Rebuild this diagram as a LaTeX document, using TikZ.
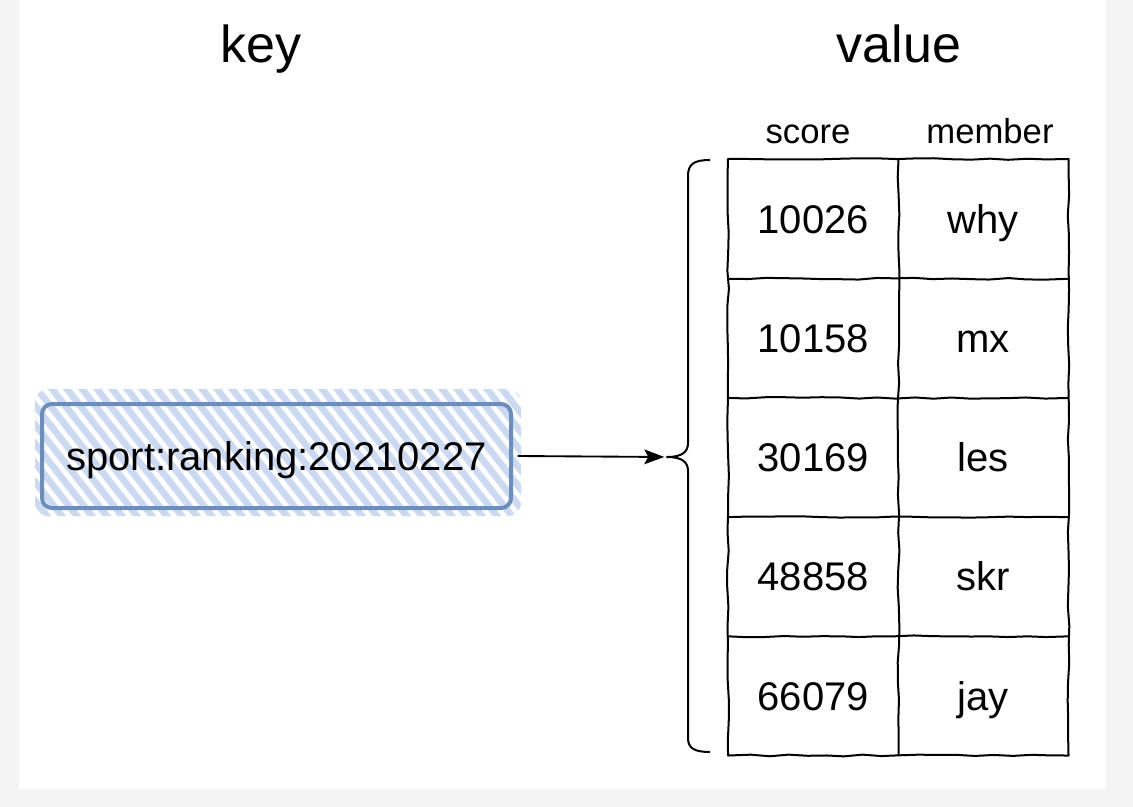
\documentclass[tikz,border=0pt]{standalone}
\usepackage{fontspec}
\setmainfont{Liberation Sans}
\usetikzlibrary{arrows.meta,decorations.pathmorphing}
\definecolor{bggray}{HTML}{F4F4F4}
\definecolor{keyblue}{HTML}{6C8EBF}
\definecolor{hatchblue}{HTML}{CBDAF2}
\begin{document}
\begin{tikzpicture}[x=0.75pt,y=-0.75pt,
  title/.style={font=\fontsize{39}{45}\selectfont, anchor=base, inner sep=0pt},
  header/.style={font=\fontsize{26}{30}\selectfont, anchor=base, inner sep=0pt},
  cell/.style={minimum width=127.5pt, minimum height=89.4pt, inner sep=0pt,
    font=\fontsize{30}{36}\selectfont, text height=21.5pt, text depth=0pt, anchor=north west},
  sketch/.style={line width=1.5pt, line join=round, decorate,
    decoration={random steps, segment length=14pt, amplitude=0.7pt}},
  keybox/.style={draw=keyblue, line width=3pt, rounded corners=7.5pt,
    minimum width=351.75pt, minimum height=78pt, inner sep=0pt,
    font=\fontsize{30}{36}\selectfont, text height=21.5pt, text depth=0pt},
  hatch/.style={draw=hatchblue, line width=5pt, line cap=round},
  connector/.style={line width=1.4pt, -{Stealth[length=15pt,width=11pt,inset=3pt]}},
  bracestyle/.style={line width=1.5pt, line join=round}]
\pgfmathsetseed{11}
\useasboundingbox (0,0) rectangle (1133,807);
\fill[bggray] (0,0) rectangle (1133,807);
\fill[white] (19,0) rectangle (1106,789);

% titles
\node[title] (keytitle) at (261,62) {key};
\node[title] (valuetitle) at (899,62) {value};
\node[header] (score) at (808,143) {score};
\node[header] (member) at (990,143) {member};

% hatch fill of key box
\begin{scope}
  \clip[rounded corners=10pt] (35,389) rectangle (521,516);
  \foreach \i in {0,...,38} {
    \draw[hatch] (-60+\i*15,380) -- ++(110,140);
  }
\end{scope}
\node[keybox] (key) at (276.5,456) {sport:ranking:20210227};

% table cells
\node[cell] (c11) at (728,159.0) {10026};
\node[cell] (c12) at (898,159.0) {why};
\node[cell] (c21) at (728,278.2) {10158};
\node[cell] (c22) at (898,278.2) {mx};
\node[cell] (c31) at (728,397.4) {30169};
\node[cell] (c32) at (898,397.4) {les};
\node[cell] (c41) at (728,516.6) {48858};
\node[cell] (c42) at (898,516.6) {skr};
\node[cell] (c51) at (728,635.8) {66079};
\node[cell] (c52) at (898,635.8) {jay};

% grid
\draw[sketch] (c11.north west) -- (c12.north east) -- (c52.south east) -- (c51.south west) -- cycle;
\draw[sketch] (c11.north east) -- (c51.south east);
\draw[sketch] (c11.south west) -- (c12.south east);
\draw[sketch] (c21.south west) -- (c22.south east);
\draw[sketch] (c31.south west) -- (c32.south east);
\draw[sketch] (c41.south west) -- (c42.south east);

% brace
\coordinate (btop) at (710,160);
\coordinate (tip) at (667,457);
\coordinate (bbot) at (710,752);
\draw[bracestyle] (btop) .. controls (694,160) and (688,164) .. (688,176)
  -- (688,443) .. controls (688,452) and (682,457) .. (tip)
  .. controls (682,457) and (688,462) .. (688,471)
  -- (688,738) .. controls (688,748) and (694,752) .. (bbot);

% arrow
\draw[connector, shorten >=2pt] ([xshift=3.5pt]key.east) -- (tip);
\end{tikzpicture}
\end{document}
